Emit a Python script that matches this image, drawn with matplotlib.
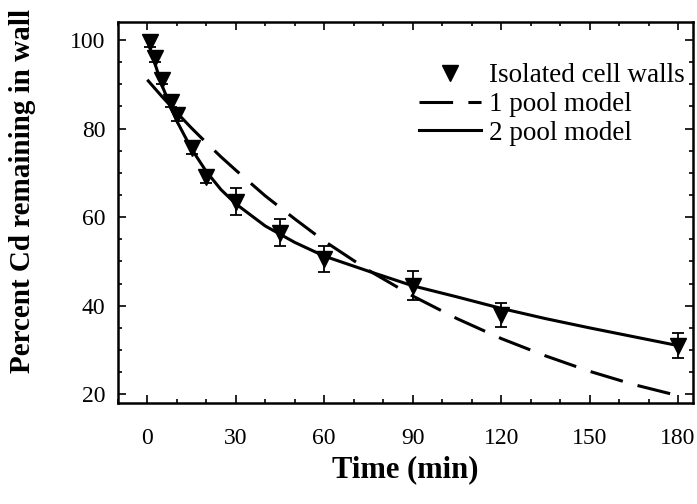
import numpy as np
import matplotlib
matplotlib.use("Agg")
import matplotlib.pyplot as plt
from matplotlib.ticker import MultipleLocator

# measured data: isolated cell walls
t_obs = [1, 2.5, 5, 8, 10, 15, 20, 30, 45, 60, 90, 120, 180]
cd_obs = [99.5, 96, 91, 86, 83, 75.5, 69, 63.5, 56.5, 50.5, 44.5, 38, 31]
cd_err = [1.0, 1.0, 1.0, 1.2, 1.2, 1.2, 1.2, 3.0, 3.0, 3.0, 3.3, 2.7, 2.8]

# model curves
t_model = [0, 5, 10, 15, 20, 25, 30, 40, 50, 60, 75, 90, 105, 120, 135, 150, 165, 180]
one_pool = [91.0, 87.2, 83.6, 80.1, 76.8, 73.6, 70.6, 64.8, 59.6, 54.6, 48.0, 42.2,
            37.1, 32.6, 28.7, 25.2, 22.2, 19.7]
two_pool = [100.0, 89.7, 81.7, 75.4, 70.3, 66.2, 63.0, 58.0, 54.3, 51.2, 47.8, 44.5,
            42.0, 39.4, 37.1, 35.0, 33.0, 31.0]

xticks = [0, 30, 60, 90, 120, 150, 180]
yticks = [20, 40, 60, 80, 100]

plt.rcParams["font.family"] = ["Liberation Serif", "DejaVu Serif"]

fig = plt.figure(figsize=(6.97, 5.04), dpi=100)
ax = fig.add_axes([0.169, 0.200, 0.825, 0.756])

ax.errorbar(t_obs, cd_obs, yerr=cd_err, fmt="none", ecolor="black",
            elinewidth=1.3, capsize=4, capthick=1.3, zorder=2)
ax.plot(t_obs, cd_obs, linestyle="none", marker="v", markersize=11.5,
        color="black", label="Isolated cell walls", zorder=3)
ax.plot(t_model, one_pool, color="black", linewidth=2.2,
        dashes=(11, 5), label="1 pool model")
ax.plot(t_model, two_pool, color="black", linewidth=2.2, label="2 pool model")

ax.set_xlim(-10, 185)
ax.set_ylim(18, 104)
ax.set_xticks(xticks)
ax.set_yticks(yticks)
ax.xaxis.set_minor_locator(MultipleLocator(10))
ax.yaxis.set_minor_locator(MultipleLocator(5))
ax.tick_params(which="both", direction="in", top=True, right=True,
               labelsize=17, width=1.2)
ax.tick_params(axis="x", which="major", pad=18)
ax.tick_params(axis="y", which="major", pad=9)
ax.tick_params(which="major", length=6)
ax.tick_params(which="minor", length=3)
for s in ax.spines.values():
    s.set_linewidth(1.8)

ax.set_xlabel("Time (min)", fontsize=22, fontweight="bold", labelpad=4)
ax.set_ylabel("Percent Cd remaining in wall", fontsize=21, fontweight="bold")
ax.yaxis.set_label_coords(-0.142, 0.556)

ax.legend(loc="upper right", bbox_to_anchor=(1.005, 0.92), frameon=False,
          fontsize=19.5, handlelength=2.3, handletextpad=0.3, labelspacing=0.13,
          borderaxespad=0)

fig.savefig("out.png", dpi=100)
